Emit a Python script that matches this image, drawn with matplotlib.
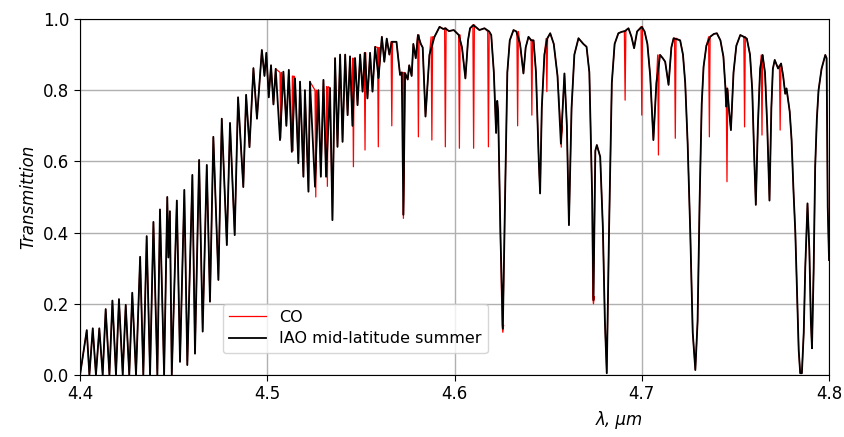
import numpy as np
import matplotlib
matplotlib.use("Agg")
import matplotlib.pyplot as plt

# IAO mid-latitude summer: vertices (wavelength um, transmission)
atm_wl = [
    4.4000, 4.4036, 4.4050, 4.4068, 4.4085, 4.4103, 4.4121, 4.4137, 4.4157, 4.4173,
    4.4192, 4.4208, 4.4228, 4.4244, 4.4263, 4.4279, 4.4299, 4.4321, 4.4338, 4.4356,
    4.4374, 4.4392, 4.4413, 4.4427, 4.4449, 4.4466, 4.4472, 4.4480, 4.4490, 4.4517,
    4.4534, 4.4557, 4.4573, 4.4600, 4.4614, 4.4636, 4.4655, 4.4677, 4.4694, 4.4712,
    4.4739, 4.4757, 4.4784, 4.4801, 4.4826, 4.4844, 4.4872, 4.4887, 4.4905, 4.4926,
    4.4945, 4.4971, 4.4985, 4.4995, 4.5008, 4.5020, 4.5033, 4.5045, 4.5068, 4.5086,
    4.5102, 4.5115, 4.5131, 4.5148, 4.5166, 4.5175, 4.5193, 4.5201, 4.5220, 4.5228,
    4.5255, 4.5273, 4.5286, 4.5300, 4.5314, 4.5335, 4.5348, 4.5362, 4.5375, 4.5389,
    4.5402, 4.5416, 4.5429, 4.5442, 4.5455, 4.5469, 4.5482, 4.5496, 4.5509, 4.5522,
    4.5535, 4.5549, 4.5562, 4.5576, 4.5594, 4.5612, 4.5625, 4.5638, 4.5652, 4.5665,
    4.5690, 4.5709, 4.5718, 4.5727, 4.5736, 4.5750, 4.5758, 4.5771, 4.5780, 4.5793,
    4.5805, 4.5820, 4.5830, 4.5845, 4.5866, 4.5893, 4.5920, 4.5940, 4.5951, 4.5970,
    4.5996, 4.6023, 4.6040, 4.6058, 4.6072, 4.6083, 4.6101, 4.6133, 4.6160, 4.6185,
    4.6196, 4.6210, 4.6222, 4.6228, 4.6233, 4.6245, 4.6258, 4.6270, 4.6282, 4.6295,
    4.6315, 4.6330, 4.6350, 4.6368, 4.6380, 4.6395, 4.6410, 4.6422, 4.6435, 4.6450,
    4.6457, 4.6466, 4.6480, 4.6495, 4.6511, 4.6530, 4.6550, 4.6568, 4.6587, 4.6600,
    4.6611, 4.6625, 4.6640, 4.6662, 4.6688, 4.6705, 4.6720, 4.6735, 4.6742, 4.6752,
    4.6760, 4.6778, 4.6792, 4.6803, 4.6813, 4.6825, 4.6840, 4.6855, 4.6875, 4.6893,
    4.6910, 4.6929, 4.6945, 4.6959, 4.6975, 4.7000, 4.7015, 4.7030, 4.7045, 4.7062,
    4.7078, 4.7098, 4.7112, 4.7125, 4.7143, 4.7158, 4.7170, 4.7205, 4.7220, 4.7232,
    4.7245, 4.7259, 4.7272, 4.7286, 4.7298, 4.7309, 4.7320, 4.7330, 4.7345, 4.7365,
    4.7385, 4.7401, 4.7420, 4.7436, 4.7445, 4.7451, 4.7457, 4.7465, 4.7476, 4.7490,
    4.7505, 4.7526, 4.7545, 4.7561, 4.7578, 4.7590, 4.7600, 4.7609, 4.7620, 4.7632,
    4.7645, 4.7658, 4.7670, 4.7682, 4.7692, 4.7700, 4.7710, 4.7728, 4.7744, 4.7755,
    4.7766, 4.7773, 4.7780, 4.7790, 4.7800, 4.7810, 4.7820, 4.7830, 4.7838, 4.7846,
    4.7855, 4.7865, 4.7873, 4.7885, 4.7895, 4.7903, 4.7909, 4.7918, 4.7926, 4.7935,
    4.7944, 4.7960, 4.7980, 4.7987, 4.7993, 4.8000,
]
atm_t = [
    0.000, 0.126, 0.000, 0.131, 0.000, 0.131, 0.000, 0.185, 0.000, 0.209,
    0.000, 0.213, 0.000, 0.197, 0.000, 0.231, 0.000, 0.332, 0.000, 0.390,
    0.000, 0.430, 0.000, 0.465, 0.000, 0.500, 0.330, 0.460, 0.000, 0.490,
    0.037, 0.520, 0.028, 0.562, 0.060, 0.604, 0.122, 0.590, 0.206, 0.669,
    0.267, 0.720, 0.365, 0.708, 0.393, 0.780, 0.528, 0.787, 0.640, 0.862,
    0.720, 0.913, 0.840, 0.905, 0.780, 0.870, 0.760, 0.860, 0.660, 0.852,
    0.700, 0.857, 0.627, 0.833, 0.595, 0.824, 0.557, 0.800, 0.515, 0.824,
    0.529, 0.800, 0.557, 0.829, 0.557, 0.806, 0.435, 0.890, 0.641, 0.900,
    0.655, 0.900, 0.730, 0.895, 0.700, 0.890, 0.758, 0.900, 0.796, 0.905,
    0.777, 0.905, 0.796, 0.922, 0.834, 0.950, 0.880, 0.945, 0.900, 0.936,
    0.936, 0.843, 0.850, 0.450, 0.848, 0.830, 0.870, 0.840, 0.930, 0.890,
    0.955, 0.930, 0.920, 0.726, 0.899, 0.950, 0.978, 0.972, 0.974, 0.966,
    0.969, 0.955, 0.920, 0.833, 0.940, 0.974, 0.983, 0.969, 0.974, 0.965,
    0.955, 0.850, 0.680, 0.770, 0.740, 0.400, 0.130, 0.500, 0.850, 0.940,
    0.969, 0.965, 0.930, 0.847, 0.920, 0.950, 0.940, 0.940, 0.850, 0.600,
    0.510, 0.750, 0.900, 0.945, 0.960, 0.930, 0.840, 0.650, 0.847, 0.700,
    0.421, 0.750, 0.900, 0.946, 0.930, 0.922, 0.850, 0.500, 0.210, 0.630,
    0.646, 0.613, 0.417, 0.150, 0.005, 0.400, 0.820, 0.930, 0.960, 0.964,
    0.966, 0.974, 0.950, 0.918, 0.965, 0.978, 0.965, 0.930, 0.840, 0.660,
    0.820, 0.899, 0.890, 0.880, 0.815, 0.920, 0.946, 0.940, 0.900, 0.820,
    0.650, 0.400, 0.120, 0.014, 0.150, 0.490, 0.760, 0.866, 0.925, 0.950,
    0.958, 0.960, 0.940, 0.894, 0.820, 0.754, 0.805, 0.750, 0.688, 0.850,
    0.925, 0.955, 0.950, 0.945, 0.900, 0.800, 0.620, 0.478, 0.700, 0.860,
    0.899, 0.850, 0.700, 0.490, 0.750, 0.860, 0.885, 0.861, 0.875, 0.840,
    0.790, 0.805, 0.778, 0.740, 0.660, 0.520, 0.400, 0.220, 0.070, 0.005,
    0.005, 0.120, 0.300, 0.482, 0.350, 0.150, 0.075, 0.300, 0.585, 0.720,
    0.800, 0.860, 0.899, 0.890, 0.473, 0.323,
]

# CO-only lines that dip below the atmosphere curve: centre, level at line edge, line minimum
co_wl = [4.5072, 4.5138, 4.5259, 4.5321, 4.5460, 4.5522, 4.5593, 4.5665, 4.5727,
         4.5807, 4.5879, 4.5951, 4.6026, 4.6102, 4.6181, 4.6258, 4.6337, 4.6413,
         4.6493, 4.6570, 4.6742, 4.6911, 4.7000, 4.7089, 4.7179, 4.7361, 4.7455,
         4.7549, 4.7642, 4.7739]
co_top = [0.85, 0.84, 0.80, 0.81, 0.89, 0.905, 0.92, 0.936, 0.85,
          0.955, 0.95, 0.974, 0.955, 0.983, 0.965, 0.14, 0.965, 0.94,
          0.945, 0.70, 0.22, 0.966, 0.978, 0.899, 0.946, 0.95, 0.80,
          0.95, 0.899, 0.87]
co_min = [0.665, 0.63, 0.50, 0.53, 0.585, 0.632, 0.641, 0.70, 0.44,
          0.669, 0.66, 0.641, 0.637, 0.637, 0.641, 0.12, 0.70, 0.73,
          0.796, 0.64, 0.20, 0.772, 0.73, 0.618, 0.665, 0.669, 0.543,
          0.697, 0.674, 0.688]

# build CO curve: the atmosphere vertices plus the narrow CO line cores
half = 0.0004
co_x = list(atm_wl)
co_y = list(atm_t)
for c, top, low in zip(co_wl, co_top, co_min):
    i = int(np.searchsorted(co_x, c - half))
    co_x[i:i] = [c - half, c, c + half]
    co_y[i:i] = [top, low, top]

fig = plt.figure(figsize=(8.45, 4.37), dpi=100)
ax = fig.add_axes([0.0947, 0.1419, 0.8864, 0.8146])

ax.plot(co_x, co_y, color="red", lw=0.9, label="CO")
ax.plot(atm_wl, atm_t, color="black", lw=1.3, label="IAO mid-latitude summer")

ax.set_xlim(4.4, 4.8)
ax.set_ylim(0.0, 1.0)
ax.set_xticks([4.4, 4.5, 4.6, 4.7, 4.8])
ax.set_yticks([0.0, 0.2, 0.4, 0.6, 0.8, 1.0])
ax.tick_params(labelsize=12, length=4)
ax.grid(True, color="#b0b0b0", lw=1.0)
ax.set_axisbelow(True)

ax.set_ylabel("Transmittion", fontsize=12, fontstyle="italic")
ax.set_xlabel("λ, μm", fontsize=12, fontstyle="italic")
ax.xaxis.set_label_coords(0.72, -0.1)

ax.legend(loc="lower left", bbox_to_anchor=(0.18, 0.04), fontsize=11.5,
          handlelength=2.3, borderpad=0.4, labelspacing=0.4)

fig.savefig("out.png", dpi=100)
